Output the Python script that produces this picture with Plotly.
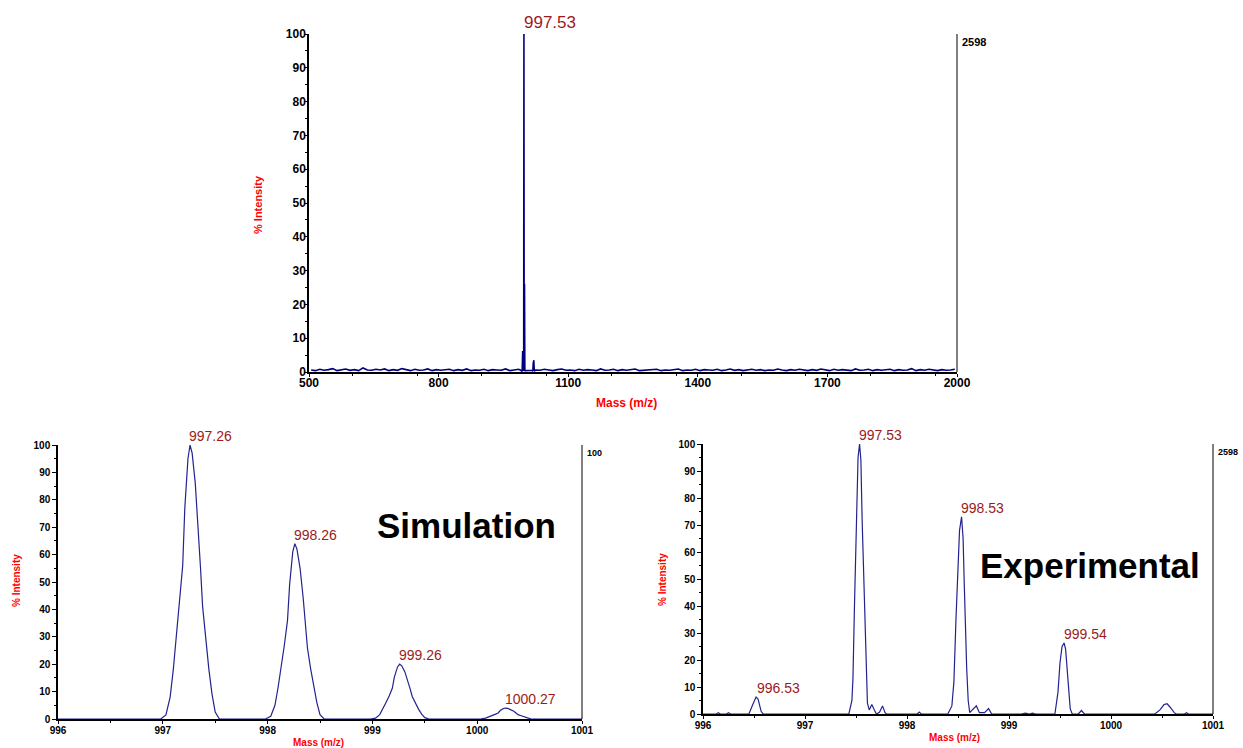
import plotly.graph_objects as go

# ---------------- survey scan (500-2000 m/z) ----------------
survey_noise_mz = list(range(505, 2000, 10))
survey_noise_int = [
    0.6, 0.4, 0.8, 0.5, 0.7, 1.0, 0.4, 0.6, 0.9, 0.5, 0.7, 0.4, 1.2, 0.6, 0.5,
    0.8, 0.6, 0.9, 0.4, 0.7, 0.5, 1.0, 0.6, 0.4, 0.8, 0.5, 0.6, 0.9, 0.4, 0.7,
    0.5, 0.6, 0.8, 0.4, 0.7, 0.5, 0.9, 0.4, 0.6, 0.5, 0.8, 0.4, 0.7, 0.6, 0.5,
    0.9, 0.4, 0.6, 0.8, 0.5, 0.7, 0.4, 0.6, 0.5, 0.8, 0.6, 0.4, 0.7, 0.9, 0.5,
    0.6, 0.4, 0.8, 0.5, 0.7, 0.6, 0.4, 0.9, 0.5, 0.6, 0.8, 0.4, 0.7, 0.5, 0.6,
    0.9, 0.4, 0.5, 0.7, 0.6, 0.8, 0.4, 0.6, 0.5, 0.7, 0.9, 0.4, 0.6, 0.5, 0.8,
    0.4, 0.7, 0.6, 0.5, 0.8, 0.4, 0.6, 0.9, 0.5, 0.7, 0.4, 0.6, 0.8, 0.5, 0.7,
    0.4, 0.6, 0.5, 0.9, 0.6, 0.4, 0.7, 0.5, 0.8, 0.6, 0.4, 0.7, 0.5, 0.9, 0.6,
    0.4, 0.8, 0.5, 0.7, 0.6, 0.4, 0.9, 0.5, 0.6, 0.8, 0.4, 0.7, 0.5, 0.6, 0.8,
    0.4, 0.7, 0.5, 0.6, 1.0, 0.4, 0.7, 0.5, 0.8, 0.6, 0.4, 0.7, 0.5, 0.6, 0.8,
]
survey_peak_mz = [990.0, 993.5, 994.6, 995.4, 996.2, 997.0, 997.53, 998.1, 998.9,
                  999.6, 1000.5, 1016.0, 1018.2, 1019.0, 1020.4, 1021.6, 1023.0]
survey_peak_int = [0.5, 0.2, 6.2, 0.3, 0.2, 4.0, 100.0, 0.4, 26.0,
                   0.3, 0.4, 0.5, 0.3, 2.5, 3.5, 0.3, 0.6]

# ---------------- simulated isotope pattern ----------------
sim_mz = [
    996.00,
    996.98, 997.03, 997.07, 997.10, 997.13, 997.16, 997.19, 997.21, 997.24, 997.26,
    997.28, 997.31, 997.34, 997.36, 997.38, 997.41, 997.44, 997.47, 997.50, 997.54,
    997.98, 998.03, 998.07, 998.10, 998.13, 998.16, 998.19, 998.21, 998.24, 998.26,
    998.28, 998.31, 998.34, 998.36, 998.38, 998.41, 998.44, 998.47, 998.50, 998.54,
    998.98, 999.03, 999.07, 999.10, 999.13, 999.16, 999.19, 999.21, 999.24, 999.26,
    999.28, 999.31, 999.34, 999.36, 999.38, 999.41, 999.44, 999.47, 999.50, 999.54,
    999.99, 1000.04, 1000.08, 1000.11, 1000.14, 1000.17, 1000.20, 1000.22, 1000.25, 1000.27,
    1000.29, 1000.32, 1000.35, 1000.37, 1000.39, 1000.42, 1000.45, 1000.48, 1000.51, 1000.55,
    1001.00,
]
sim_int = [
    0,
    0, 1.5, 8, 18, 30, 42, 56, 77, 95, 100,
    97, 86, 69, 55, 41, 29, 18, 9, 2.5, 0,
    0, 1, 5, 11.5, 19, 27, 36, 49, 61, 64,
    62, 55, 44, 35, 26, 18.5, 11.5, 6, 1.6, 0,
    0, 0.3, 1.6, 3.6, 6, 8.4, 11.2, 15.4, 19, 20,
    19.4, 17.2, 13.8, 11, 8.2, 5.8, 3.6, 1.8, 0.5, 0,
    0, 0.1, 0.3, 0.7, 1.2, 1.7, 2.2, 3.1, 3.8, 4,
    3.9, 3.4, 2.8, 2.2, 1.6, 1.2, 0.7, 0.4, 0.1, 0,
    0,
]
sim_label_mz = [997.26, 998.26, 999.26, 1000.27]
sim_label_int = [100, 64, 20, 4]
sim_label_text = ["997.26", "998.26", "999.26", "1000.27"]

# ---------------- experimental isotope pattern ----------------
exp_mz = [
    996.00, 996.13, 996.15, 996.17, 996.23, 996.25, 996.27,
    996.45, 996.48, 996.52, 996.54, 996.57, 996.59,
    997.43, 997.46, 997.47, 997.485, 997.50, 997.51, 997.52, 997.535, 997.548,
    997.56, 997.575, 997.59, 997.60, 997.612, 997.63, 997.655, 997.68, 997.70,
    997.73, 997.76, 997.785, 997.80, 998.10, 998.12, 998.14,
    998.40, 998.44, 998.46, 998.48, 998.50, 998.515, 998.535, 998.55, 998.56,
    998.57, 998.585, 998.60, 998.615, 998.64, 998.68, 998.71, 998.76, 998.80, 998.83,
    999.12, 999.16, 999.20, 999.23, 999.26,
    999.45, 999.48, 999.50, 999.52, 999.54, 999.555, 999.57, 999.585, 999.60, 999.62,
    999.68, 999.71, 999.74,
    1000.43, 1000.48, 1000.52, 1000.55, 1000.58, 1000.62, 1000.64,
    1000.72, 1000.74, 1000.76, 1001.00,
]
exp_int = [
    0, 0, 0.5, 0, 0, 0.5, 0,
    0, 2.8, 6.3, 5.5, 1, 0,
    0, 5, 13, 40, 68, 85, 95, 100, 94,
    72, 53, 32, 16, 4, 1.5, 3.5, 1.5, 0,
    0.6, 3, 0.5, 0, 0, 0.7, 0,
    0, 3, 12, 35, 55, 68, 73, 65, 50,
    35, 17, 5, 0.5, 1.5, 3, 0.5, 0.5, 2, 0,
    0, 0.3, 0, 0.3, 0,
    0, 8, 19, 25, 26.3, 24, 17, 8, 2, 0,
    0, 1.3, 0,
    0, 1.5, 3.5, 3.8, 2.5, 0.5, 0,
    0, 0.5, 0, 0,
]
exp_label_mz = [996.53, 997.53, 998.53, 999.54]
exp_label_int = [6.3, 100, 73, 26.3]
exp_label_text = ["996.53", "997.53", "998.53", "999.54"]

# merge survey noise with the isotope cluster region
survey_mz, survey_int = [], []
for m, v in zip(survey_noise_mz, survey_noise_int):
    if m < 990:
        survey_mz.append(m)
        survey_int.append(v)
survey_mz += survey_peak_mz
survey_int += survey_peak_int
for m, v in zip(survey_noise_mz, survey_noise_int):
    if m > 1023:
        survey_mz.append(m)
        survey_int.append(v)

W, H = 1243, 748
FONT = "Arial, Liberation Sans, sans-serif"
RED = "#ff0000"
LABEL_RED = "#9b1b1b"

fig = go.Figure()
fig.add_trace(go.Scatter(x=survey_mz, y=survey_int, mode="lines",
                         line=dict(color="#00007f", width=1.6),
                         xaxis="x", yaxis="y", showlegend=False, hoverinfo="skip"))
fig.add_trace(go.Scatter(x=sim_mz, y=sim_int, mode="lines",
                         line=dict(color="#23238f", width=1.2),
                         xaxis="x2", yaxis="y2", showlegend=False, hoverinfo="skip"))
fig.add_trace(go.Scatter(x=exp_mz, y=exp_int, mode="lines",
                         line=dict(color="#23238f", width=1.2),
                         xaxis="x3", yaxis="y3", showlegend=False, hoverinfo="skip"))


def yaxis_style(domain, size, anchor, standoff, ticklen=4):
    return dict(domain=domain, range=[0, 100], anchor=anchor, dtick=10, tick0=0,
                automargin=False,
                showline=True, linecolor="black", linewidth=1.5,
                ticks="outside", ticklen=ticklen, tickcolor="black",
                ticklabelstandoff=standoff,
                minor=dict(dtick=5, ticks="outside", ticklen=2, tickcolor="black"),
                showgrid=False, zeroline=False,
                tickfont=dict(family=FONT, size=size, color="black", weight="bold"))


def xaxis_style(domain, rng, dtick, size, anchor, standoff):
    return dict(domain=domain, range=rng, anchor=anchor, dtick=dtick, tick0=rng[0],
                automargin=False,
                showline=True, linecolor="black", linewidth=1.5,
                ticks="outside", ticklen=3, tickcolor="black",
                ticklabelstandoff=standoff,
                minor=dict(dtick=dtick / 2, ticks="outside", ticklen=2, tickcolor="black"),
                showgrid=False, zeroline=False,
                tickfont=dict(family=FONT, size=size, color="black", weight="bold"))


def px_x(v):
    return v / W


def px_y(v):
    return 1 - v / H


fig.update_layout(
    template="none",
    width=W, height=H,
    margin=dict(l=0, r=0, t=0, b=0, pad=0),
    paper_bgcolor="white", plot_bgcolor="white",
    xaxis=xaxis_style([px_x(309), px_x(957)], [500, 2000], 300, 12, "y", -4),
    yaxis=yaxis_style([px_y(372), px_y(34)], 12, "x", -4, ticklen=3),
    xaxis2=xaxis_style([px_x(58), px_x(582)], [996, 1001], 1, 10, "y2", -2),
    yaxis2=yaxis_style([px_y(719), px_y(445)], 10, "x2", 0),
    xaxis3=xaxis_style([px_x(703), px_x(1213)], [996, 1001], 1, 10, "y3", -2),
    yaxis3=yaxis_style([px_y(714), px_y(444)], 10, "x3", 0),
)

# right-hand frame lines
for xa, ya in [("x", "y"), ("x2", "y2"), ("x3", "y3")]:
    fig.add_shape(type="line", xref=f"{xa} domain", yref=f"{ya} domain",
                  x0=1, x1=1, y0=0, y1=1, line=dict(color="black", width=1))

ann = []
# right-axis absolute intensity labels
ann.append(dict(x=1, y=1, xref="x domain", yref="y domain", text="<b>2598</b>",
                xanchor="left", yanchor="top", xshift=3, yshift=0, showarrow=False,
                font=dict(family=FONT, size=11, color="black")))
ann.append(dict(x=1, y=1, xref="x2 domain", yref="y2 domain", text="<b>100</b>",
                xanchor="left", yanchor="top", xshift=3, yshift=-1, showarrow=False,
                font=dict(family=FONT, size=9, color="black")))
ann.append(dict(x=1, y=1, xref="x3 domain", yref="y3 domain", text="<b>2598</b>",
                xanchor="left", yanchor="top", xshift=3, yshift=-1, showarrow=False,
                font=dict(family=FONT, size=9, color="black")))

# axis titles (positions in pixels, converted to paper coordinates)
titles = [
    (626, 403, "Mass (m/z)", 0, 12),
    (258, 205, "% Intensity", -90, 11),
    (318, 742, "Mass (m/z)", 0, 10),
    (16, 580, "% Intensity", -90, 10),
    (954, 737, "Mass (m/z)", 0, 10),
    (662, 580, "% Intensity", -90, 10),
]
for x, y, t, ang, s in titles:
    ann.append(dict(x=px_x(x), y=px_y(y), xref="paper", yref="paper",
                    xanchor="center", yanchor="middle",
                    text=f"<b>{t}</b>", textangle=ang, showarrow=False,
                    font=dict(family=FONT, size=s, color=RED)))

# peak labels
ann.append(dict(x=997.53, y=100, xref="x", yref="y", text="997.53",
                xanchor="left", yanchor="bottom", xshift=-2, yshift=0, showarrow=False,
                font=dict(family=FONT, size=17, color=LABEL_RED)))
for m, v, t in zip(sim_label_mz, sim_label_int, sim_label_text):
    ann.append(dict(x=m, y=v, xref="x2", yref="y2", text=t,
                    xanchor="left", yanchor="bottom", xshift=-3, yshift=-1, showarrow=False,
                    font=dict(family=FONT, size=14, color=LABEL_RED)))
for m, v, t in zip(exp_label_mz, exp_label_int, exp_label_text):
    ann.append(dict(x=m, y=v, xref="x3", yref="y3", text=t,
                    xanchor="left", yanchor="bottom", xshift=-2, yshift=-1, showarrow=False,
                    font=dict(family=FONT, size=14, color=LABEL_RED)))

# panel captions
ann.append(dict(x=px_x(467), y=px_y(525), xref="paper", yref="paper",
                xanchor="center", yanchor="middle",
                text="<b>Simulation</b>", showarrow=False,
                font=dict(family=FONT, size=35, color="black")))
ann.append(dict(x=px_x(1090), y=px_y(565), xref="paper", yref="paper",
                xanchor="center", yanchor="middle",
                text="<b>Experimental</b>", showarrow=False,
                font=dict(family=FONT, size=35, color="black")))

fig.update_layout(annotations=ann)
fig.write_html("out.html")
